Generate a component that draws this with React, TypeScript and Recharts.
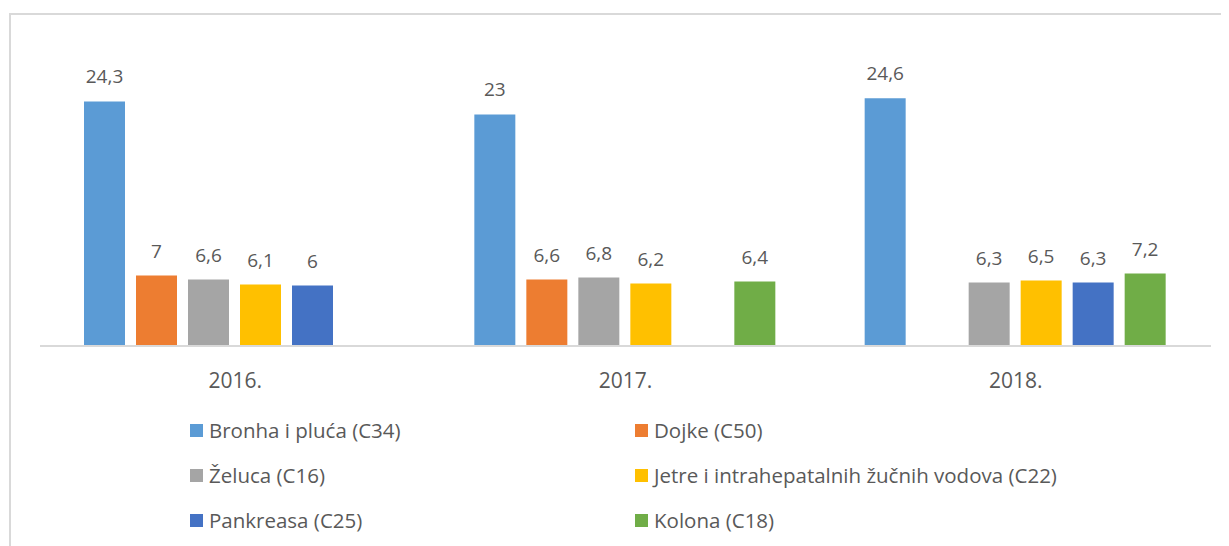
import React from "react";
import { BarChart, Bar, XAxis, YAxis, LabelList, Legend } from "recharts";

const years = ["2016.", "2017.", "2018."];
const bronha = [24.3, 23, 24.6];
const dojke = [7, 6.6, null];
const zeluca = [6.6, 6.8, 6.3];
const jetre = [6.1, 6.2, 6.5];
const pankreasa = [6, null, 6.3];
const kolona = [null, 6.4, 7.2];

const SERIES = [
  { key: "bronha", name: "Bronha i pluća (C34)", color: "#5b9bd5", values: bronha },
  { key: "dojke", name: "Dojke (C50)", color: "#ed7d31", values: dojke },
  { key: "zeluca", name: "Želuca (C16)", color: "#a5a5a5", values: zeluca },
  { key: "jetre", name: "Jetre i intrahepatalnih žučnih vodova (C22)", color: "#ffc000", values: jetre },
  { key: "pankreasa", name: "Pankreasa (C25)", color: "#4472c4", values: pankreasa },
  { key: "kolona", name: "Kolona (C18)", color: "#70ad47", values: kolona },
];

const data = years.map((year, i) => {
  const row: Record<string, any> = { year };
  SERIES.forEach((s) => {
    row[s.key] = s.values[i];
  });
  return row;
});

const FONT = "'Open Sans', sans-serif";
const TEXT = "#595959";

// legend in two columns, same order as Excel
function LegendGrid() {
  return (
    <div
      style={{
        display: "grid",
        gridTemplateColumns: "445px 520px",
        rowGap: 21,
        fontFamily: FONT,
        fontSize: 20.5,
        color: TEXT,
      }}
    >
      {SERIES.map((s) => (
        <div key={s.key} style={{ display: "flex", alignItems: "center", height: 24, whiteSpace: "nowrap" }}>
          <span
            style={{ display: "inline-block", width: 13, height: 13, background: s.color, marginRight: 6 }}
          />
          <span>{s.name}</span>
        </div>
      ))}
    </div>
  );
}

const fmt = (v: any) => (v === null || v === undefined ? "" : String(v).replace(".", ","));

export default function App() {
  return (
    <div style={{ position: "relative", width: 1221, height: 538 }}>
      <div
        style={{
          position: "absolute",
          left: 1,
          top: 5,
          width: 1230,
          height: 540,
          borderTop: "2px solid #d9d9d9",
          borderLeft: "2px solid #d9d9d9",
        }}
      />
      <div style={{ position: "absolute", left: 0, top: 0 }}>
        <BarChart
          width={1213}
          height={530}
          data={data}
          margin={{ top: 36, right: 10, left: 32, bottom: 38 }}
          barCategoryGap={44}
          barGap={11}
        >
          <XAxis
            dataKey="year"
            stroke="#d9d9d9"
            strokeWidth={2}
            tickLine={false}
            tickSize={0}
            tickMargin={27}
            height={40}
            tick={{ fill: TEXT, fontSize: 21, fontFamily: FONT }}
          />
          <YAxis hide domain={[0, 30]} />
          <Legend
            content={() => <LegendGrid />}
            wrapperStyle={{ position: "absolute", top: 410, left: 182, width: 1000 }}
          />
          {SERIES.map((s) => (
            <Bar key={s.key} dataKey={s.key} name={s.name} fill={s.color} isAnimationActive={false}>
              <LabelList
                dataKey={s.key}
                position="top"
                offset={18}
                formatter={fmt}
                style={{ fill: TEXT, fontSize: 19, fontFamily: FONT }}
              />
            </Bar>
          ))}
        </BarChart>
      </div>
    </div>
  );
}
